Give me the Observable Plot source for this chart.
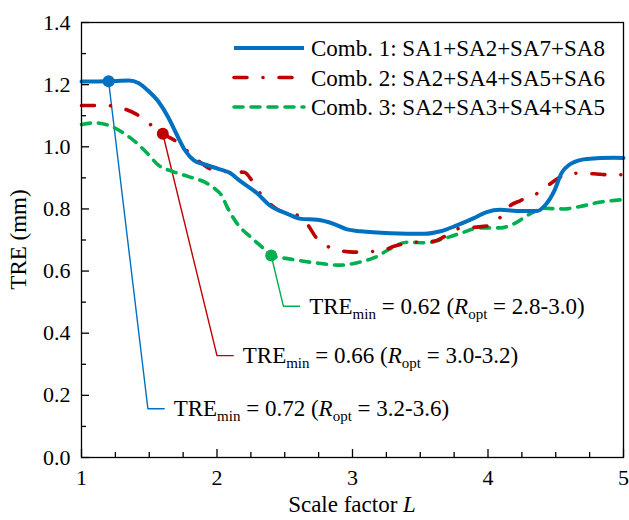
<!DOCTYPE html>
<html><head><meta charset="utf-8">
<script src="https://cdn.jsdelivr.net/npm/d3@7"></script>
<script src="https://cdn.jsdelivr.net/npm/@observablehq/plot@0.6"></script>
<style>body{margin:0;background:#fff} #chart svg{display:block}</style>
</head><body><div id="chart"></div>
<script>
// ---- data ----
const comb1X = [1.00,1.20,1.35,1.42,1.49,1.57,1.64,1.70,1.765,1.83,1.91,2.01,2.09,2.17,2.30,2.39,2.52,2.62,2.74,2.86,2.96,3.06,3.28,3.53,3.65,3.77,3.90,3.99,4.09,4.24,4.36,4.42,4.49,4.54,4.61,4.73,4.93,5.00];
const comb1Y = [1.210,1.211,1.213,1.205,1.181,1.144,1.095,1.042,0.988,0.956,0.943,0.929,0.917,0.890,0.849,0.811,0.784,0.768,0.765,0.752,0.734,0.728,0.722,0.720,0.728,0.747,0.771,0.790,0.797,0.793,0.793,0.811,0.859,0.913,0.945,0.961,0.965,0.964];
const comb2X = [1.00,1.18,1.27,1.40,1.47,1.59,1.69,1.79,1.86,1.98,2.07,2.20,2.26,2.32,2.44,2.62,2.665,2.73,2.84,3.01,3.22,3.30,3.48,3.60,3.67,3.77,3.90,4.02,4.07,4.15,4.24,4.36,4.46,4.56,4.66,4.78,4.90,5.00];
const comb2Y = [1.133,1.133,1.127,1.106,1.085,1.044,1.020,0.983,0.956,0.924,0.920,0.918,0.890,0.849,0.800,0.773,0.752,0.709,0.675,0.661,0.666,0.679,0.693,0.696,0.709,0.736,0.741,0.747,0.763,0.806,0.827,0.849,0.881,0.908,0.915,0.913,0.910,0.910];
const comb3X = [1.00,1.10,1.20,1.30,1.40,1.49,1.57,1.67,1.79,1.91,1.99,2.035,2.075,2.15,2.25,2.345,2.40,2.52,2.715,2.91,3.035,3.16,3.28,3.40,3.55,3.67,3.80,3.94,4.09,4.19,4.31,4.41,4.56,4.68,4.83,5.00];
const comb3Y = [1.072,1.077,1.069,1.047,1.015,0.977,0.940,0.921,0.904,0.886,0.863,0.843,0.806,0.752,0.709,0.672,0.650,0.640,0.627,0.619,0.627,0.643,0.672,0.693,0.691,0.704,0.722,0.739,0.739,0.752,0.784,0.802,0.800,0.808,0.822,0.830];

const seriesNames = ["Comb. 1: SA1+SA2+SA7+SA8","Comb. 2: SA2+SA4+SA5+SA6","Comb. 3: SA2+SA3+SA4+SA5"];
const seriesColors = ["#0070c0","#c00000","#00b050"];

// optimum markers and annotation leaders
const optX = [1.2, 1.6, 2.4];
const optY = [1.211, 1.042, 0.650];
const cornerX = [1.49, 2.0, 2.49];
const cornerY = [0.157, 0.328, 0.487];
const leaderEndX = [1.61, 2.12, 2.61];
const treMin = ["0.72","0.66","0.62"];
const rOpt = ["3.2-3.6","3.0-3.2","2.8-3.0"];

const xTicks = [1,2,3,4,5];
const xMinor = [1.25,1.5,1.75,2.25,2.5,2.75,3.25,3.5,3.75,4.25,4.5,4.75];
const yTicks = [0,0.2,0.4,0.6,0.8,1.0,1.2,1.4];
const yMinor = [0.1,0.3,0.5,0.7,0.9,1.1,1.3];

// ---- build ----
const W = 629, H = 520, mL = 81, mR = 6, mT = 22, mB = 63;
const pw = W - mL - mR, ph = H - mT - mB;
const FONT = "'Liberation Serif','Times New Roman',Times,serif";

const zipS = (xs, ys) => xs.map((x, i) => ({x, y: ys[i]}));
const s1 = zipS(comb1X, comb1Y), s2 = zipS(comb2X, comb2Y), s3 = zipS(comb3X, comb3Y);
const leaders = [0,1,2].map(i => [
  {x: optX[i], y: optY[i]}, {x: cornerX[i], y: cornerY[i]}, {x: leaderEndX[i], y: cornerY[i]}
]);
const opts = [0,1,2].map(i => ({x: optX[i], y: optY[i], c: seriesColors[i]}));

const chart = Plot.plot({
  width: W, height: H,
  marginLeft: mL, marginRight: mR, marginTop: mT, marginBottom: mB,
  style: {fontFamily: FONT, fontSize: "22px", background: "white", color: "black"},
  x: {domain: [1, 5]},
  y: {domain: [0, 1.4]},
  marks: [
    Plot.axisX({ticks: xTicks, tickSize: 0, tickPadding: 12, tickFormat: d3.format("d"), label: null, fontSize: 22}),
    Plot.axisY({ticks: yTicks, tickSize: 0, tickPadding: 11, tickFormat: d3.format(".1f"), label: null, fontSize: 22}),
    Plot.tickX(xTicks, {x: d => d, insetTop: ph - 8, stroke: "black", strokeWidth: 1.3}),
    Plot.tickX(xMinor, {x: d => d, insetTop: ph - 5, stroke: "black", strokeWidth: 1.3}),
    Plot.tickY(yTicks, {y: d => d, insetRight: pw - 8, stroke: "black", strokeWidth: 1.3}),
    Plot.tickY(yMinor, {y: d => d, insetRight: pw - 5, stroke: "black", strokeWidth: 1.3}),
    // leaders
    ...leaders.map((L, i) => Plot.line(L, {x: "x", y: "y", stroke: seriesColors[i], strokeWidth: 1.4})),
    // curves
    Plot.line(s3, {x: "x", y: "y", stroke: seriesColors[2], strokeWidth: 3.6, curve: "monotone-x", strokeDasharray: "9,8", strokeLinecap: "round"}),
    Plot.line(s2, {x: "x", y: "y", stroke: seriesColors[1], strokeWidth: 3.6, curve: "monotone-x", strokeDasharray: "13,16,0.01,16", strokeLinecap: "round"}),
    Plot.line(s1, {x: "x", y: "y", stroke: seriesColors[0], strokeWidth: 4, curve: "monotone-x"}),
    Plot.dot(opts, {x: "x", y: "y", fill: "c", r: 6, stroke: null}),
    Plot.frame({stroke: "black", strokeWidth: 1.3})
  ]
});
document.getElementById("chart").appendChild(chart);

const svg = d3.select(chart);
const sx = chart.scale("x"), sy = chart.scale("y");

// annotations with subscripts
const SUB = "15px";
for (let i = 0; i < 3; i++) {
  const t = svg.append("text")
    .attr("x", sx.apply(leaderEndX[i]) + 10)
    .attr("y", sy.apply(cornerY[i]))
    .attr("dy", "0.35em").attr("text-anchor", "start")
    .attr("font-family", FONT).attr("font-size", "23px").attr("fill", "black");
  t.append("tspan").text("TRE");
  t.append("tspan").attr("font-size", SUB).attr("dy", 5).text("min");
  t.append("tspan").attr("dy", -5).text(" = " + treMin[i] + " (");
  t.append("tspan").attr("font-style", "italic").text("R");
  t.append("tspan").attr("font-size", SUB).attr("dy", 5).text("opt");
  t.append("tspan").attr("dy", -5).text(" = " + rOpt[i] + ")");
}

// legend
const dashes = [null, "13,16,0.01,16", "9,8"];
const legX1 = 234, legX2 = 304, legY0 = 48, legDY = 29.5;
seriesNames.forEach((name, i) => {
  const y = legY0 + i * legDY;
  svg.append("line").attr("x1", legX1).attr("x2", legX2).attr("y1", y).attr("y2", y)
    .attr("stroke", seriesColors[i]).attr("stroke-width", i === 0 ? 4 : 3.6)
    .attr("stroke-dasharray", dashes[i]).attr("stroke-linecap", i === 0 ? "butt" : "round");
  svg.append("text").attr("x", 311).attr("y", y).attr("dy", "0.35em").attr("text-anchor", "start")
    .attr("font-family", FONT).attr("font-size", "23px").attr("fill", "black").text(name);
});

// axis titles
const xt = svg.append("text").attr("x", mL + pw / 2).attr("y", 512).attr("text-anchor", "middle")
  .attr("font-family", FONT).attr("font-size", "23px").attr("fill", "black");
xt.append("tspan").text("Scale factor ");
xt.append("tspan").attr("font-style", "italic").text("L");
svg.append("text").attr("transform", `translate(26,${mT + ph / 2}) rotate(-90)`)
  .attr("text-anchor", "middle").attr("font-family", FONT).attr("font-size", "23px")
  .attr("fill", "black").text("TRE (mm)");
</script>
</body></html>
